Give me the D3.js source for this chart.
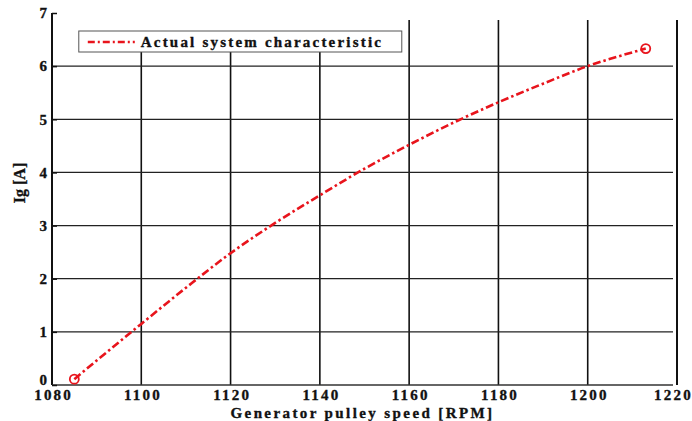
<!DOCTYPE html>
<html>
<head>
<meta charset="utf-8">
<script src="https://cdn.jsdelivr.net/npm/d3@7"></script>
<style>
  body { margin: 0; background: #fff; }
  text { font-family: "Liberation Serif", "DejaVu Serif", serif; font-weight: bold; fill: #111; stroke: #111; stroke-width: 0.35; }
</style>
</head>
<body>
<svg width="692" height="421"></svg>
<script>
const rpm = [1085, 1090, 1100, 1110, 1120, 1130, 1140, 1150, 1160, 1170, 1180, 1190, 1200, 1210, 1213];
const current = [0.11, 0.46, 1.15, 1.83, 2.48, 3.05, 3.57, 4.07, 4.52, 4.94, 5.32, 5.67, 6.0, 6.26, 6.33];
const xTicks = [1080, 1100, 1120, 1140, 1160, 1180, 1200, 1220];
const yTicks = [0, 1, 2, 3, 4, 5, 6, 7];

const data = rpm.map((r, i) => ({ r, a: current[i] }));

const svg = d3.select('svg');
const margin = { top: 13, right: 15, bottom: 36, left: 52 };
const width = +svg.attr('width') - margin.left - margin.right;
const height = +svg.attr('height') - margin.top - margin.bottom;
const g = svg.append('g')
  .attr('transform', `translate(${margin.left},${margin.top})`);

const x = d3.scaleLinear().domain([1080, 1220]).range([0, width]);
const y = d3.scaleLinear().domain([0, 7]).range([height, 0]);

// grid
const gridTop = y(6.87);
g.selectAll('.vgrid')
  .data(xTicks.slice(1, -1))
  .enter().append('line')
  .attr('x1', d => x(d)).attr('x2', d => x(d))
  .attr('y1', gridTop).attr('y2', height)
  .attr('stroke', '#111').attr('stroke-width', 1.6);
g.selectAll('.hgrid')
  .data(yTicks.slice(1, -1))
  .enter().append('line')
  .attr('x1', 0).attr('x2', width - 4)
  .attr('y1', d => y(d)).attr('y2', d => y(d))
  .attr('stroke', '#222').attr('stroke-width', 1.3);

// axes
g.append('line').attr('x1', 0).attr('x2', 0).attr('y1', 0).attr('y2', height)
  .attr('stroke', '#111').attr('stroke-width', 2);
g.append('line').attr('x1', 0).attr('x2', width - 4).attr('y1', height).attr('y2', height)
  .attr('stroke', '#333').attr('stroke-width', 1.3);
g.append('line').attr('x1', width).attr('x2', width).attr('y1', gridTop).attr('y2', height)
  .attr('stroke', '#111').attr('stroke-width', 2);

const yAxis = g.append('g')
  .call(d3.axisLeft(y).tickValues(yTicks).tickSize(-5).tickPadding(5).tickFormat(d3.format('d')));
yAxis.select('.domain').remove();
yAxis.selectAll('line').attr('stroke', '#111').attr('stroke-width', 1.5);
yAxis.selectAll('text').attr('font-size', 15)
  .attr('dy', d => d === 0 ? '-0.05em' : '0.32em');

const xAxis = g.append('g')
  .attr('transform', `translate(0,${height})`)
  .call(d3.axisBottom(x).tickValues(xTicks).tickSize(0).tickPadding(4).tickFormat(d3.format('d')));
xAxis.select('.domain').remove();
xAxis.selectAll('text').attr('font-size', 15).attr('letter-spacing', 2.2)
  .attr('dx', d => d === 1220 ? -4 : 1.1);

svg.append('text')
  .attr('x', margin.left + width / 2 - 2).attr('y', 418)
  .attr('text-anchor', 'middle').attr('font-size', 15).attr('letter-spacing', 2.4)
  .text('Generator pulley speed [RPM]');
svg.append('text')
  .attr('transform', 'translate(25,183) rotate(-90)')
  .attr('text-anchor', 'middle').attr('font-size', 16)
  .text('Ig [A]');

// legend
const legX = x(1086) , legY = 31 - margin.top;
g.append('rect')
  .attr('x', legX).attr('y', gridTop - 2)
  .attr('width', 323).attr('height', legY + 21 - gridTop + 2)
  .attr('fill', '#fff');
g.append('rect')
  .attr('x', legX).attr('y', legY)
  .attr('width', 323).attr('height', 21)
  .attr('fill', '#fff').attr('stroke', '#555').attr('stroke-width', 1);
g.append('line')
  .attr('x1', legX + 9).attr('x2', legX + 56)
  .attr('y1', legY + 11).attr('y2', legY + 11)
  .attr('stroke', '#e8141c').attr('stroke-width', 2.5)
  .attr('stroke-dasharray', '7,3,2,3');
g.append('text')
  .attr('x', legX + 62).attr('y', legY + 16)
  .attr('font-size', 15).attr('letter-spacing', 2.2)
  .text('Actual system characteristic');

// curve
const line = d3.line()
  .x(d => x(d.r))
  .y(d => y(d.a))
  .curve(d3.curveMonotoneX);
g.append('path')
  .datum(data)
  .attr('d', line)
  .attr('fill', 'none')
  .attr('stroke', '#e8141c')
  .attr('stroke-width', 2.6)
  .attr('stroke-dasharray', '8,3,2.5,3');

g.selectAll('.mark')
  .data([data[0], data[data.length - 1]])
  .enter().append('circle')
  .attr('cx', d => x(d.r)).attr('cy', d => y(d.a))
  .attr('r', 4.5)
  .attr('fill', 'none').attr('stroke', '#e8141c').attr('stroke-width', 1.8);
</script>
</body>
</html>
